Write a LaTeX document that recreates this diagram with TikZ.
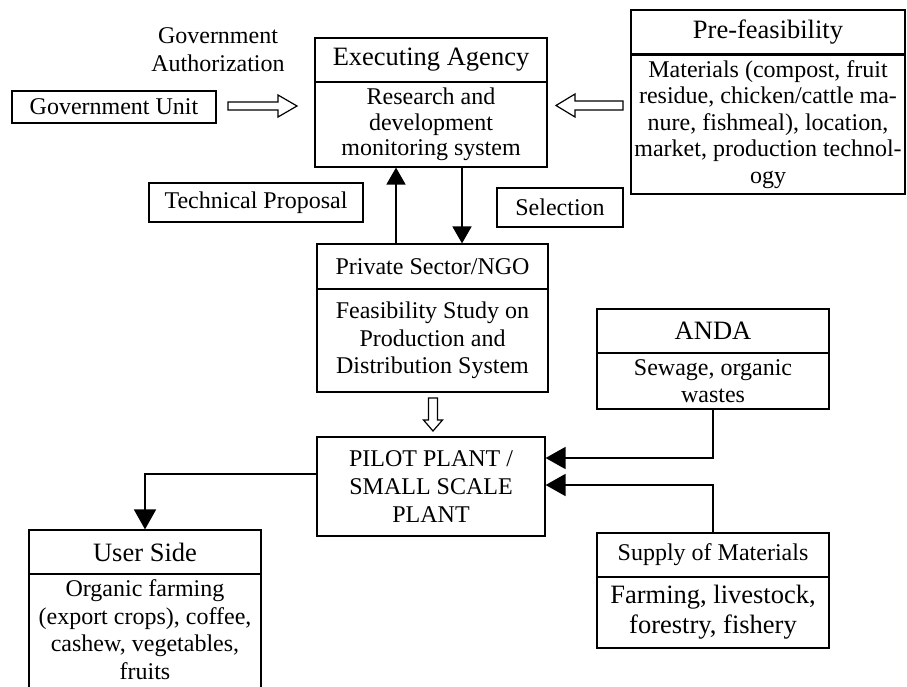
\documentclass[tikz,border=0pt]{standalone}
\usepackage{fontspec}
\setmainfont{Liberation Serif}
\usetikzlibrary{arrows.meta,calc}
\newcommand\bodyfs{\fontsize{24}{27}\selectfont}
\newcommand\headfs{\fontsize{26.5}{30}\selectfont}
\begin{document}
\begin{tikzpicture}[x=1pt,y=-1pt,
  box/.style={draw,line width=1.2pt,inner sep=1pt,align=center,font=\bodyfs},
  hbox/.style={box,font=\headfs},
  arr/.style={line width=1.8pt,-{Triangle[length=20pt,width=22pt]}},
  sarr/.style={line width=1.8pt,-{Triangle[length=17pt,width=19pt]}},
  openarr/.style={draw,line width=1.2pt,fill=white,line join=miter}]
\useasboundingbox (0,0) rectangle (907,687);
\clip (0,0) rectangle (907,687);

% Government side
\node[box,minimum width=204pt,minimum height=32pt] (gu) at (114,107) {Government Unit};
\node[align=center,font=\fontsize{24}{28}\selectfont,inner sep=0pt] (gauth) at (218,50) {Government\\Authorization};

% Executing agency
\node[hbox,minimum width=232pt,minimum height=44pt] (exech) at (431,60) {Executing Agency};
\node[box,minimum width=232pt,minimum height=85pt,font=\fontsize{24}{25.5}\selectfont] (execb) at (431,124.5) {Research and\\development\\monitoring system};

% Pre-feasibility
\node[hbox,minimum width=274pt,minimum height=44pt] (prefh) at (768,32) {Pre-feasibility};
\node[box,minimum width=274pt,minimum height=139pt,font=\fontsize{24}{26.5}\selectfont] (prefb) at (768,124.5) {Materials (compost, fruit\\residue, chicken/cattle ma-\\nure, fishmeal), location,\\market, production technol-\\ogy};
\draw[line width=1.2pt] (prefb.south west) -- (prefb.south east);

% labels
\node[box,minimum width=214pt,minimum height=39pt] (tp) at (256,202.5) {Technical Proposal};
\node[box,minimum width=126pt,minimum height=39pt] (sel) at (560,207.5) {Selection};

% Private sector
\node[box,minimum width=231pt,minimum height=45pt] (psh) at (432.5,266.5) {Private Sector/NGO};
\node[box,minimum width=231pt,minimum height=103pt,font=\fontsize{24}{27.5}\selectfont] (psb) at (432.5,340.5) {Feasibility Study on\\Production and\\Distribution System};

% Pilot plant
\node[box,minimum width=228pt,minimum height=99pt,font=\fontsize{24}{28}\selectfont] (pilot) at (431,486.5) {PILOT PLANT /\\SMALL SCALE\\PLANT};

% ANDA
\node[hbox,minimum width=232pt,minimum height=44pt] (andah) at (713,331) {ANDA};
\node[box,minimum width=232pt,minimum height=56pt] (andab) at (713,381) {Sewage, organic\\wastes};

% Supply
\node[box,minimum width=232pt,minimum height=44pt] (suph) at (713,555) {Supply of Materials};
\node[box,minimum width=232pt,minimum height=71pt,font=\fontsize{26.5}{30}\selectfont] (supb) at (713,612.5) {Farming, livestock,\\forestry, fishery};

% User side
\node[hbox,minimum width=232pt,minimum height=44pt] (ush) at (145,552) {User Side};
\node[box,minimum width=232pt,anchor=north,inner ysep=5pt,font=\fontsize{24}{27.7}\selectfont] (usb) at (145,574) {Organic farming\\(export crops), coffee,\\cashew, vegetables,\\fruits\rule[-30pt]{0pt}{0pt}};

% connectors
\draw[sarr] ([xshift=-36.5pt]psh.north) -- ([xshift=-36.5pt]psh.north |- execb.south);
\draw[sarr] ([xshift=31pt]execb.south) -- ([xshift=31pt]execb.south |- psh.north);
\draw[arr] ([yshift=12.5pt]pilot.west) -| (ush.north);
\draw[arr] (andab.south) |- ([yshift=28.5pt]pilot.east);
\draw[arr] (suph.north) |- ([yshift=1.5pt]pilot.east);

% open block arrows
\draw[openarr] (228,102) -- (278,102) -- (278,95) -- (297,106) -- (278,117) -- (278,110) -- (228,110) -- cycle;
\draw[openarr] (623,101) -- (575,101) -- (575,94) -- (556,105.5) -- (575,117) -- (575,110) -- (623,110) -- cycle;
\draw[openarr] (428.5,398) -- (428.5,420) -- (423.5,420) -- (433,431) -- (442.5,420) -- (437.5,420) -- (437.5,398) -- cycle;
\end{tikzpicture}
\end{document}
